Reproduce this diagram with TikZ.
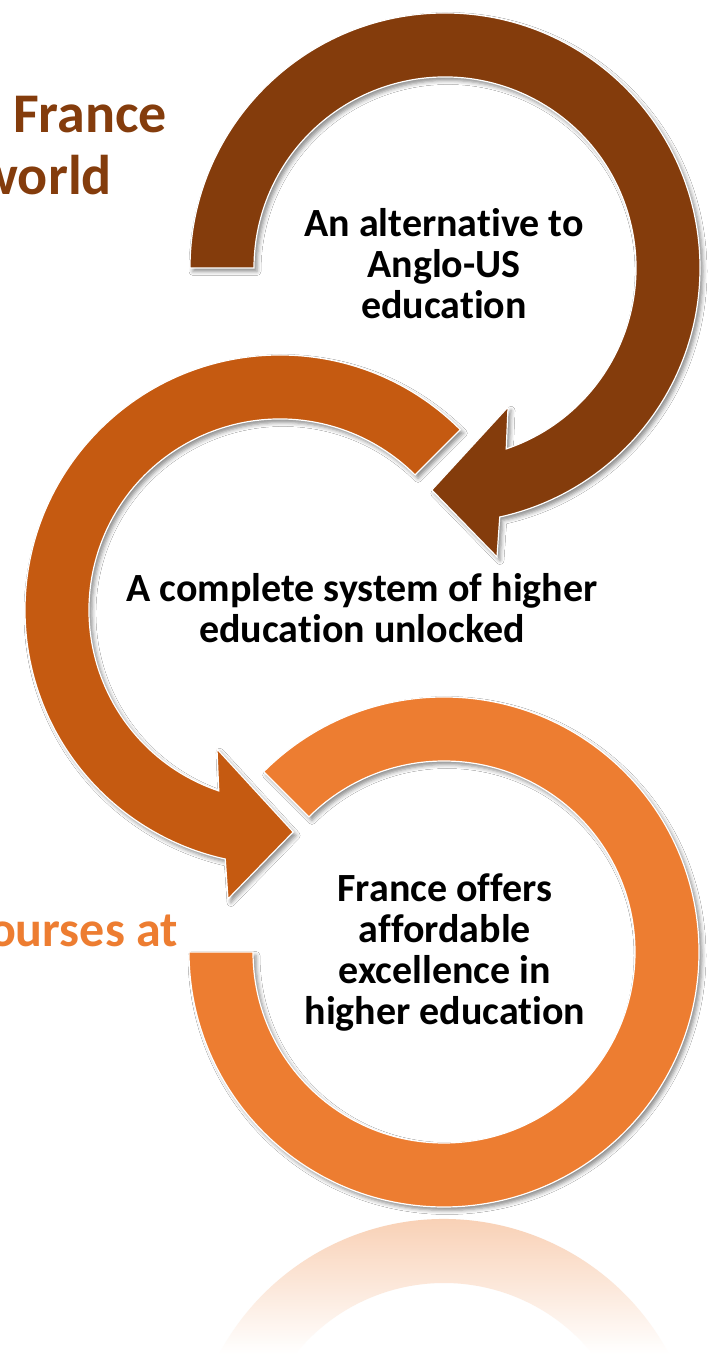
\documentclass[tikz,border=0pt]{standalone}
\usepackage{fontspec}
\setmainfont{Carlito}[Ligatures=NoCommon]
\usetikzlibrary{shadows.blur}
\definecolor{ringA}{HTML}{843C0C}
\definecolor{ringB}{HTML}{C55A11}
\definecolor{ringC}{HTML}{ED7D31}
\begin{document}
\begin{tikzpicture}[x=1pt,y=1pt,
  ring/.style={draw=white, line width=1.2pt, line join=miter,
    blur shadow={shadow xshift=3pt, shadow yshift=-3.5pt, shadow blur radius=4pt, shadow opacity=45}},
  lbl/.style={font=\bfseries\fontsize{40}{41}\selectfont, align=center, text=black, inner sep=0pt, anchor=base},
  side/.style={font=\bfseries\fontsize{56}{62}\selectfont, inner sep=0pt, anchor=base east}]
\useasboundingbox (0,0) rectangle (719,1354);
\fill[white] (0,0) rectangle (719,1354);
\clip (0,0) rectangle (719,1354);
\coordinate (T) at (445,1086);
\coordinate (M) at (280,744);
\coordinate (B) at (444,402);
\coordinate (Rf) at (444,-120);
% reflection
\shade[top color=ringC!45!white, bottom color=white, shift={(Rf)}]
  (28.07:255) arc[start angle=28.07, end angle=151.93, radius=255]
  -- (141.1:191) arc[start angle=141.1, end angle=38.9, radius=191] -- cycle;
% bottom ring
\fill[ringC, ring, shift={(B)}]
  (135:255) arc[start angle=135, end angle=-180, radius=255]
  -- (180:191) arc[start angle=-180, end angle=135, radius=191] -- cycle;
% middle ring
\fill[ringB, ring, shift={(M)}]
  (45:255) arc[start angle=45, end angle=257.6, radius=255]
  -- (259.8:293.6) -- (273.4:222.4) -- (245.6:152.6) -- (251.3:191)
  arc[start angle=251.3, end angle=45, radius=191] -- cycle;
% top ring
\fill[ringA, ring, shift={(T)}]
  (180:255) arc[start angle=180, end angle=-77.6, radius=255]
  -- (-79.8:293.6) -- (-93.4:222.4) -- (-65.6:152.6) -- (-71.3:191)
  arc[start angle=-71.3, end angle=180, radius=191] -- cycle;
% texts (base anchor = baseline of the last line)
\node[lbl] (t1) at (444,1035) {An alternative to\\Anglo-US\\education};
\node[lbl] (t2) at (362,711) {A complete system of higher\\education unlocked};
\node[lbl] (t3) at (445,329) {France offers\\affordable\\excellence in\\higher education};
\node[side, text=ringA] (s1) at (167,1221) {.\,France};
\node[side, text=ringA] (s2) at (112,1159) {world};
\node[side, text=ringC, font=\bfseries\fontsize{50}{60}\selectfont] (s3) at (178,407) {ourses at};
\end{tikzpicture}
\end{document}
